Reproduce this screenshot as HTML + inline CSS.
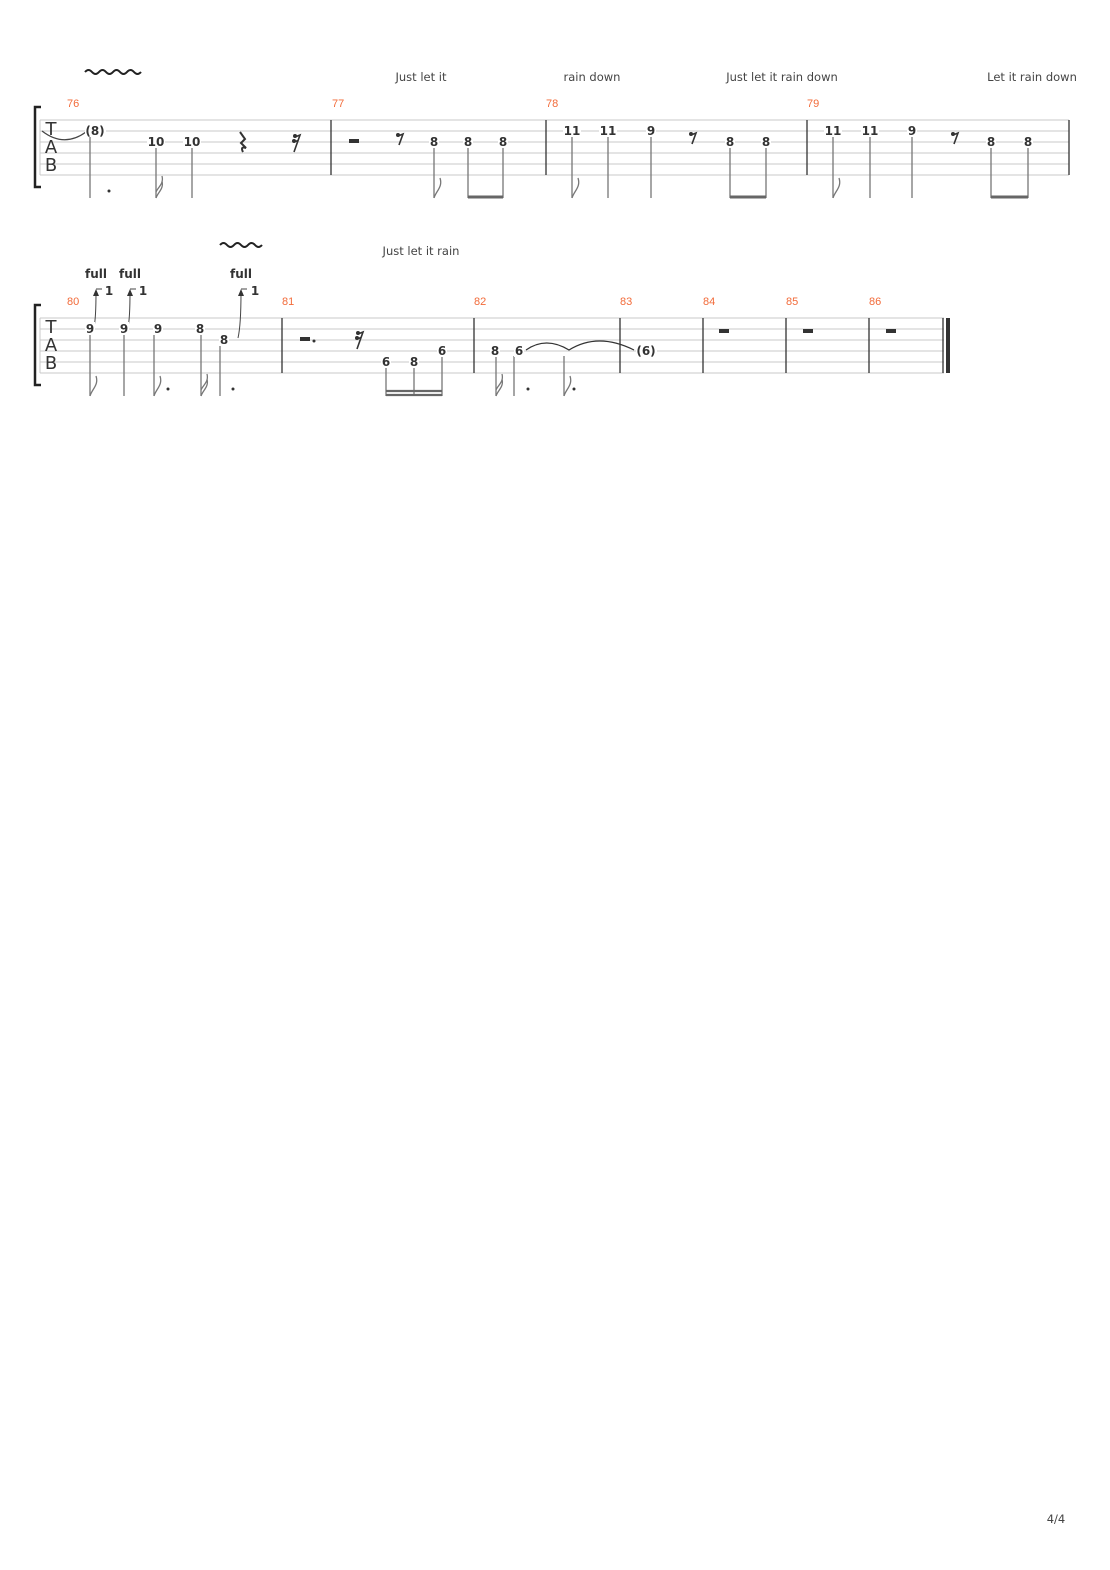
<!DOCTYPE html>
<html><head><meta charset="utf-8"><style>
html,body{margin:0;padding:0;background:#fff;}
svg{display:block;}
.n{font-family:"DejaVu Sans","Liberation Sans",sans-serif;font-weight:bold;font-size:12px;fill:#333;text-anchor:middle;}
.m{font-family:"Liberation Sans",sans-serif;font-size:11px;fill:#f26b3a;}
.l{font-family:"DejaVu Sans","Liberation Sans",sans-serif;font-size:11.5px;fill:#444;text-anchor:middle;}
.tab{font-family:"DejaVu Sans","Liberation Sans",sans-serif;font-size:18px;fill:#333;text-anchor:middle;}
</style></head><body>
<svg width="1110" height="1570" viewBox="0 0 1110 1570" xmlns="http://www.w3.org/2000/svg">
<defs>
<g id="vib"><path d="M0 3 q3.5 -4 7 0 q3.5 4 7 0 q3.5 -4 7 0 q3.5 4 7 0 q3.5 -4 7 0 q3.5 4 7 0 q3.5 -4 7 0 q3.5 4 7 0" fill="none" stroke="#222" stroke-width="2"/></g>
<g id="vib2"><path d="M0 3 q3.5 -4 7 0 q3.5 4 7 0 q3.5 -4 7 0 q3.5 4 7 0 q3.5 -4 7 0 q3.5 4 7 0" fill="none" stroke="#222" stroke-width="2"/></g>
<g id="r8"><circle cx="0" cy="0" r="2" fill="#333"/><path d="M0 1 L5 -1 L1 10" fill="none" stroke="#333" stroke-width="1.6"/></g>
<g id="r16"><circle cx="0" cy="0" r="2" fill="#333"/><circle cx="-1" cy="5" r="2" fill="#333"/><path d="M0 1 L5 -1 L-1 16 M-1 6 L3 4.5" fill="none" stroke="#333" stroke-width="1.6"/></g>
</defs>

<!-- ===== SYSTEM 1 ===== -->
<use href="#vib" x="85" y="69"/>
<text class="l" x="421" y="81">Just let it</text>
<text class="l" x="592" y="81">rain down</text>
<text class="l" x="782" y="81">Just let it rain down</text>
<text class="l" x="1032" y="81">Let it rain down</text>
<text class="m" x="67" y="107">76</text>
<text class="m" x="332" y="107">77</text>
<text class="m" x="546" y="107">78</text>
<text class="m" x="807" y="107">79</text>
<g stroke="#c8c8c8" stroke-width="1">
<line x1="40" y1="120" x2="1069" y2="120"/><line x1="40" y1="131" x2="1069" y2="131"/>
<line x1="40" y1="142" x2="1069" y2="142"/><line x1="40" y1="153" x2="1069" y2="153"/>
<line x1="40" y1="164" x2="1069" y2="164"/><line x1="40" y1="175" x2="1069" y2="175"/>
<line x1="40" y1="120" x2="40" y2="175"/>
</g>
<path d="M41 107 L35 107 L35 187 L41 187" fill="none" stroke="#222" stroke-width="2.5"/>
<text class="tab" x="51" y="135">T</text><text class="tab" x="51" y="153">A</text><text class="tab" x="51" y="171">B</text>
<g stroke="#333" stroke-width="1.3">
<line x1="331" y1="120" x2="331" y2="175"/><line x1="546" y1="120" x2="546" y2="175"/>
<line x1="807" y1="120" x2="807" y2="175"/><line x1="1069" y1="120" x2="1069" y2="175"/>
</g>
<path d="M42 131 Q64 148 86 132" fill="none" stroke="#444" stroke-width="1.2"/>
<g stroke="#777" stroke-width="1.3" fill="none">
<line x1="90" y1="137" x2="90" y2="198"/>
<line x1="156" y1="148" x2="156" y2="198"/>
<line x1="192" y1="148" x2="192" y2="198"/>
<line x1="434" y1="148" x2="434" y2="198"/>
<line x1="468" y1="148" x2="468" y2="198"/><line x1="503" y1="148" x2="503" y2="198"/>
<line x1="572" y1="137" x2="572" y2="198"/><line x1="608" y1="137" x2="608" y2="198"/>
<line x1="651" y1="137" x2="651" y2="198"/>
<line x1="730" y1="148" x2="730" y2="198"/><line x1="766" y1="148" x2="766" y2="198"/>
<line x1="833" y1="137" x2="833" y2="198"/><line x1="870" y1="137" x2="870" y2="198"/>
<line x1="912" y1="137" x2="912" y2="198"/>
<line x1="991" y1="148" x2="991" y2="198"/><line x1="1028" y1="148" x2="1028" y2="198"/>
<path d="M156 198 C158 192 164 189 162 181 M156 192 C158 187 164 184 162 176"/>
<path d="M434 198 C436 191 443 187 440 178"/>
<path d="M572 198 C574 191 581 187 578 178"/>
<path d="M833 198 C835 191 842 187 839 178"/>
</g>
<g stroke="#666" stroke-width="3">
<line x1="468" y1="197" x2="503" y2="197"/><line x1="730" y1="197" x2="766" y2="197"/><line x1="991" y1="197" x2="1028" y2="197"/>
</g>
<circle cx="109" cy="191" r="1.5" fill="#333"/>
<path d="M240 132 L245 139 L241 143 L246 148 Q240 146 243 152" fill="none" stroke="#333" stroke-width="2"/>
<use href="#r16" x="295" y="136"/>
<rect x="349" y="139" width="10" height="4" fill="#333"/>
<use href="#r8" x="398" y="135"/>
<use href="#r8" x="691" y="134"/>
<use href="#r8" x="953" y="134"/>
<g>
<rect x="85" y="124" width="21" height="13" fill="#fff"/><text class="n" x="95" y="135">(8)</text>
<rect x="147" y="135" width="18" height="13" fill="#fff"/><text class="n" x="156" y="146">10</text>
<rect x="183" y="135" width="18" height="13" fill="#fff"/><text class="n" x="192" y="146">10</text>
<rect x="429" y="135" width="10" height="13" fill="#fff"/><text class="n" x="434" y="146">8</text>
<rect x="463" y="135" width="10" height="13" fill="#fff"/><text class="n" x="468" y="146">8</text>
<rect x="498" y="135" width="10" height="13" fill="#fff"/><text class="n" x="503" y="146">8</text>
<rect x="563" y="124" width="18" height="13" fill="#fff"/><text class="n" x="572" y="135">11</text>
<rect x="599" y="124" width="18" height="13" fill="#fff"/><text class="n" x="608" y="135">11</text>
<rect x="646" y="124" width="10" height="13" fill="#fff"/><text class="n" x="651" y="135">9</text>
<rect x="725" y="135" width="10" height="13" fill="#fff"/><text class="n" x="730" y="146">8</text>
<rect x="761" y="135" width="10" height="13" fill="#fff"/><text class="n" x="766" y="146">8</text>
<rect x="824" y="124" width="18" height="13" fill="#fff"/><text class="n" x="833" y="135">11</text>
<rect x="861" y="124" width="18" height="13" fill="#fff"/><text class="n" x="870" y="135">11</text>
<rect x="907" y="124" width="10" height="13" fill="#fff"/><text class="n" x="912" y="135">9</text>
<rect x="986" y="135" width="10" height="13" fill="#fff"/><text class="n" x="991" y="146">8</text>
<rect x="1023" y="135" width="10" height="13" fill="#fff"/><text class="n" x="1028" y="146">8</text>
</g>

<!-- ===== SYSTEM 2 ===== -->
<use href="#vib2" x="220" y="242"/>
<text class="l" x="421" y="255">Just let it rain</text>
<text class="n" x="96" y="278">full</text>
<text class="n" x="130" y="278">full</text>
<text class="n" x="241" y="278">full</text>
<text class="m" x="67" y="305">80</text>
<text class="m" x="282" y="305">81</text>
<text class="m" x="474" y="305">82</text>
<text class="m" x="620" y="305">83</text>
<text class="m" x="703" y="305">84</text>
<text class="m" x="786" y="305">85</text>
<text class="m" x="869" y="305">86</text>
<g stroke="#c8c8c8" stroke-width="1">
<line x1="40" y1="318" x2="944" y2="318"/><line x1="40" y1="329" x2="944" y2="329"/>
<line x1="40" y1="340" x2="944" y2="340"/><line x1="40" y1="351" x2="944" y2="351"/>
<line x1="40" y1="362" x2="944" y2="362"/><line x1="40" y1="373" x2="944" y2="373"/>
<line x1="40" y1="318" x2="40" y2="373"/>
</g>
<path d="M41 305 L35 305 L35 385 L41 385" fill="none" stroke="#222" stroke-width="2.5"/>
<text class="tab" x="51" y="333">T</text><text class="tab" x="51" y="351">A</text><text class="tab" x="51" y="369">B</text>
<g stroke="#333" stroke-width="1.3">
<line x1="282" y1="318" x2="282" y2="373"/><line x1="474" y1="318" x2="474" y2="373"/>
<line x1="620" y1="318" x2="620" y2="373"/><line x1="703" y1="318" x2="703" y2="373"/>
<line x1="786" y1="318" x2="786" y2="373"/><line x1="869" y1="318" x2="869" y2="373"/>
<line x1="943" y1="318" x2="943" y2="373"/>
</g>
<rect x="946" y="318" width="4" height="55" fill="#333"/>
<g stroke="#444" stroke-width="1" fill="none">
<path d="M94 327 Q96 318 96 292"/><path d="M96 289 L102 289"/>
<path d="M128 327 Q130 318 130 292"/><path d="M130 289 L136 289"/>
<path d="M238 338 Q241 325 241 292"/><path d="M241 289 L247 289"/>
</g>
<g fill="#333">
<path d="M93 296 L96 289 L99 296 Z"/><path d="M127 296 L130 289 L133 296 Z"/><path d="M238 296 L241 289 L244 296 Z"/>
</g>
<text class="n" x="109" y="295">1</text><text class="n" x="143" y="295">1</text><text class="n" x="255" y="295">1</text>
<g stroke="#777" stroke-width="1.3" fill="none">
<line x1="90" y1="335" x2="90" y2="396"/>
<line x1="124" y1="335" x2="124" y2="396"/>
<line x1="154" y1="335" x2="154" y2="396"/>
<line x1="201" y1="335" x2="201" y2="396"/>
<line x1="220" y1="346" x2="220" y2="396"/>
<line x1="386" y1="368" x2="386" y2="396"/><line x1="414" y1="368" x2="414" y2="396"/><line x1="442" y1="357" x2="442" y2="396"/>
<line x1="496" y1="357" x2="496" y2="396"/>
<line x1="514" y1="356" x2="514" y2="396"/>
<line x1="564" y1="356" x2="564" y2="396"/>
<path d="M90 396 C92 389 99 385 96 376"/>
<path d="M154 396 C156 389 163 385 160 376"/>
<path d="M201 396 C203 390 209 387 207 379 M201 390 C203 385 209 382 207 374"/>
<path d="M496 396 C498 390 504 387 502 379 M496 390 C498 385 504 382 502 374"/>
<path d="M564 396 C566 389 573 385 570 376"/>
</g>
<g stroke="#666" stroke-width="2.2">
<line x1="386" y1="395" x2="442" y2="395"/><line x1="386" y1="391" x2="442" y2="391"/>
</g>
<g fill="#333">
<circle cx="168" cy="389" r="1.5"/><circle cx="233" cy="389" r="1.5"/>
<circle cx="528" cy="389" r="1.5"/><circle cx="574" cy="389" r="1.5"/>
<circle cx="314" cy="341" r="1.5"/>
</g>
<rect x="300" y="337" width="10" height="4" fill="#333"/>
<use href="#r16" x="358" y="333"/>
<rect x="719" y="329" width="10" height="4" fill="#333"/>
<rect x="803" y="329" width="10" height="4" fill="#333"/>
<rect x="886" y="329" width="10" height="4" fill="#333"/>
<path d="M526 350 Q546 336 569 350 Q598 332 634 350" fill="none" stroke="#333" stroke-width="1.2"/>
<g>
<rect x="85" y="322" width="10" height="13" fill="#fff"/><text class="n" x="90" y="333">9</text>
<rect x="119" y="322" width="10" height="13" fill="#fff"/><text class="n" x="124" y="333">9</text>
<rect x="153" y="322" width="10" height="13" fill="#fff"/><text class="n" x="158" y="333">9</text>
<rect x="195" y="322" width="10" height="13" fill="#fff"/><text class="n" x="200" y="333">8</text>
<rect x="219" y="333" width="10" height="13" fill="#fff"/><text class="n" x="224" y="344">8</text>
<rect x="381" y="355" width="10" height="13" fill="#fff"/><text class="n" x="386" y="366">6</text>
<rect x="409" y="355" width="10" height="13" fill="#fff"/><text class="n" x="414" y="366">8</text>
<rect x="437" y="344" width="10" height="13" fill="#fff"/><text class="n" x="442" y="355">6</text>
<rect x="490" y="344" width="10" height="13" fill="#fff"/><text class="n" x="495" y="355">8</text>
<rect x="514" y="344" width="10" height="13" fill="#fff"/><text class="n" x="519" y="355">6</text>
<rect x="636" y="344" width="21" height="13" fill="#fff"/><text class="n" x="646" y="355">(6)</text>
</g>

<text class="l" x="1056" y="1523">4/4</text>
</svg>
</body></html>
